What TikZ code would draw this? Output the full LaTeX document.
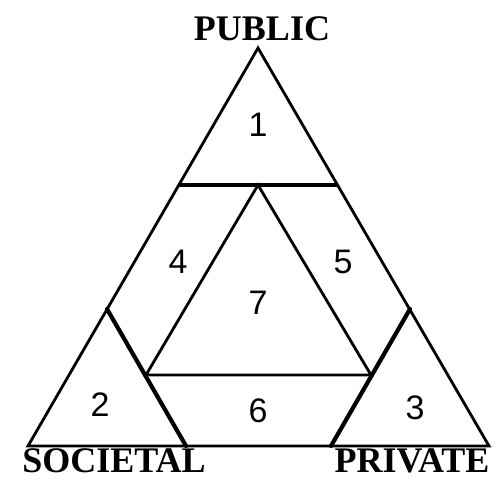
\documentclass[tikz,border=0pt]{standalone}
\usepackage{fontspec}
\setmainfont{Liberation Serif}
\setsansfont{Liberation Sans}
\begin{document}
\begin{tikzpicture}[
    x=1pt, y=-1pt,
    edge/.style={draw, line width=2.8pt, line join=miter},
    seam/.style={draw, line width=4.2pt, line cap=round},
    corner/.style={font=\fontsize{36}{36}\selectfont\bfseries, anchor=base, inner sep=0pt},
    region/.style={font=\sffamily\fontsize{34}{34}\selectfont, inner sep=0pt}
]
\useasboundingbox (0,0) rectangle (502,480);

% Outer triangle
\coordinate (apex) at (258,48);
\coordinate (bl) at (28,446);
\coordinate (br) at (489,446);

% Corner triangles
\coordinate (topL) at (179,185);
\coordinate (topR) at (337,185);
\coordinate (topM) at (258,185);
\coordinate (socApex) at (107,309);
\coordinate (socR) at (186,446);
\coordinate (priApex) at (410,309);
\coordinate (priL) at (331,446);

% Inner triangle
\coordinate (inL) at (146,375);
\coordinate (inR) at (371,375);

\draw[edge] (apex) -- (bl) -- (br) -- cycle;
\draw[edge, line width=3.4pt] (topL) -- (topR);
\draw[seam] (socApex) -- (socR);
\draw[seam] (priApex) -- (priL);
\draw[edge] (topM) -- (inL) -- (inR) -- cycle;

% Labels
\node[corner] (public) at (262,40) {PUBLIC};
\node[corner] (societal) at (114,472) {SOCIETAL};
\node[corner] (private) at (412,472) {PRIVATE};

% Regions
\node[region] (r1) at (258,125) {1};
\node[region] (r2) at (100,405) {2};
\node[region] (r3) at (415,408) {3};
\node[region] (r4) at (178,262) {4};
\node[region] (r5) at (343,262) {5};
\node[region] (r6) at (258,411) {6};
\node[region] (r7) at (258,303) {7};

\end{tikzpicture}
\end{document}
